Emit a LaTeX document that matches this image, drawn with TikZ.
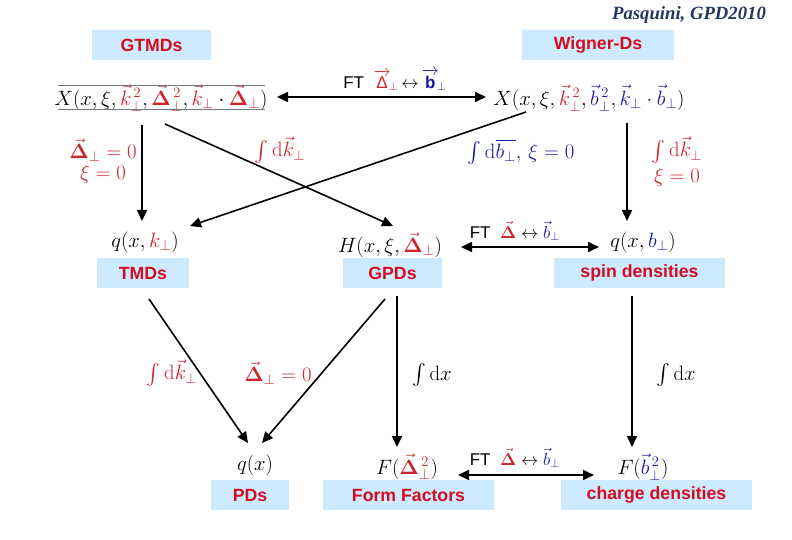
\documentclass[tikz,border=0pt]{standalone}
\usepackage{amsmath}
\usepackage[no-math]{fontspec}
\newfontfamily\arialf{Liberation Sans}
\newfontfamily\timesf{Liberation Serif}
\usetikzlibrary{arrows.meta}
\definecolor{boxblue}{RGB}{206,234,255}
\definecolor{boxred}{RGB}{212,12,32}
\definecolor{fred}{RGB}{205,35,45}
\definecolor{fblue}{RGB}{25,25,165}
\definecolor{titleblue}{RGB}{35,55,95}
\definecolor{lgray}{RGB}{110,120,135}
\newcommand{\rd}[1]{{\color{fred}#1}}
\newcommand{\bl}[1]{{\color{fblue}#1}}
\newcommand{\Dv}{\vec{\mathbf{\Delta}}}
\begin{document}
\begin{tikzpicture}[x=1pt,y=-1pt,
 box/.style={fill=boxblue, text=boxred, font=\arialf\bfseries\fontsize{17.7}{20}\selectfont, minimum height=30pt, inner sep=0pt},
 fml/.style={font=\fontsize{20.74}{23}\selectfont, inner sep=1pt},
 lab/.style={font=\fontsize{20.74}{22}\selectfont, inner sep=1pt, align=center},
 ftlab/.style={font=\arialf\fontsize{17}{20}\selectfont, inner sep=1pt},
 arr/.style={line width=1.6pt, -{Triangle[length=11pt,width=10pt]}},
 darr/.style={line width=1.6pt, {Triangle[length=11pt,width=10pt]}-{Triangle[length=11pt,width=10pt]}},
]
\useasboundingbox (0,0) rectangle (792,540);
\fill[white] (0,0) rectangle (792,540);

% title
\node[font=\timesf\bfseries\itshape\fontsize{18.7}{22}\selectfont, text=titleblue, inner sep=0pt] (title) at (689,15) {Pasquini, GPD2010};

% boxes
\node[box, minimum width=119pt] (gtmd) at (151.5,45) {GTMDs};
\node[box, minimum width=152pt] (wig) at (598,45) {Wigner-Ds};
\node[box, minimum width=92pt] (tmd) at (143,273) {TMDs};
\node[box, minimum width=99pt] (gpd) at (392.5,273) {GPDs};
\node[box, minimum width=171pt] (spin) at (639.5,273) {spin densities};
\node[box, minimum width=78pt] (pd) at (250,495) {PDs};
\node[box, minimum width=171pt] (ff) at (408.5,495) {Form Factors};
\node[box, minimum width=191pt] (charge) at (656.5,495) {charge densities};

% formulas
\node[fml] (xk) at (161,98) {$X(x,\xi,\rd{\vec k_\perp^{\,2}},\rd{\Dv_\perp^{\,2}},\rd{\vec k_\perp}\cdot\rd{\Dv_\perp})$};
\draw[lgray, line width=0.8pt] (58,85) -- (265,85);
\draw[lgray, line width=0.8pt] (58,109) -- (265,109);
\node[fml] (xb) at (589,98) {$X(x,\xi,\rd{\vec k_\perp^{\,2}},\bl{\vec b_\perp^{\,2}},\bl{\vec k_\perp\cdot\vec b_\perp})$};

\node[ftlab] (ft1) at (395,80) {FT\ \ {\color{fred}$\overrightarrow{\text{\arialf Δ}}_{\!\perp}$}\,$\leftrightarrow$\,{\color{fblue}$\overrightarrow{\text{\arialf\bfseries b}}_{\!\perp}$}};

\node[fml] (qk) at (145,242) {$q(x,\rd{k_\perp})$};
\node[fml] (h) at (390,245) {$H(x,\xi,\rd{\Dv_\perp})$};
\node[fml] (qb) at (643,242) {$q(x,\bl{b_\perp})$};
\node[ftlab] (ft2) at (515,231) {FT\ \ $\rd{\Dv}\leftrightarrow\bl{\vec b_\perp}$};

\node[fml] (qx) at (255,465) {$q(x)$};
\node[fml] (fd) at (407,467) {$F(\rd{\Dv_\perp^{\,2}})$};
\node[fml] (fb) at (643,467) {$F(\bl{\vec b_\perp^{\,2}})$};
\node[ftlab] (ft3) at (515,458) {FT\ \ $\rd{\Dv}\leftrightarrow\bl{\vec b_\perp}$};

% labels
\node[lab, text=fred] (l1a) at (103,150) {$\Dv_\perp=0$};
\node[lab, text=fred] (l1b) at (103,174) {$\xi=0$};
\node[lab, text=fred] (l2) at (280,150) {$\int\mathrm{d}\vec k_\perp$};
\node[lab, text=fblue] (l3) at (521,152) {$\int\mathrm{d}\overline{b_\perp},\,\xi=0$};
\node[lab, text=fred] (l4a) at (677,150) {$\int\mathrm{d}\vec k_\perp$};
\node[lab, text=fred] (l4b) at (677,177) {$\xi=0$};
\node[lab, text=fred] (l5) at (172,373) {$\int\mathrm{d}\vec k_\perp$};
\node[lab, text=fred] (l6) at (278,373) {$\Dv_\perp=0$};
\node[lab] (l7) at (432,375) {$\int\mathrm{d}x$};
\node[lab] (l8) at (676,375) {$\int\mathrm{d}x$};

% connector end points
\coordinate (a1s) at (142,125); \coordinate (a1e) at (142,221);
\coordinate (a2s) at (165,124); \coordinate (a2e) at (393,226);
\coordinate (a3s) at (526,112); \coordinate (a3e) at (190,226);
\coordinate (a4s) at (627,123); \coordinate (a4e) at (627,221);
\coordinate (b1s) at (149,299); \coordinate (b1e) at (248,443);
\coordinate (b2s) at (385,299); \coordinate (b2e) at (262,443);
\coordinate (b3s) at (397,296); \coordinate (b3e) at (397,447);
\coordinate (b4s) at (632,296); \coordinate (b4e) at (632,447);
\coordinate (d1s) at (277,97); \coordinate (d1e) at (486,97);
\coordinate (d2s) at (461,247); \coordinate (d2e) at (599,247);
\coordinate (d3s) at (458,475); \coordinate (d3e) at (594,475);

\draw[arr] (a1s) -- (a1e);
\draw[arr] (a2s) -- (a2e);
\draw[arr] (a3s) -- (a3e);
\draw[arr] (a4s) -- (a4e);
\draw[arr] (b1s) -- (b1e);
\draw[arr] (b2s) -- (b2e);
\draw[arr] (b3s) -- (b3e);
\draw[arr] (b4s) -- (b4e);
\draw[darr] (d1s) -- (d1e);
\draw[darr] (d2s) -- (d2e);
\draw[darr] (d3s) -- (d3e);
\end{tikzpicture}
\end{document}
